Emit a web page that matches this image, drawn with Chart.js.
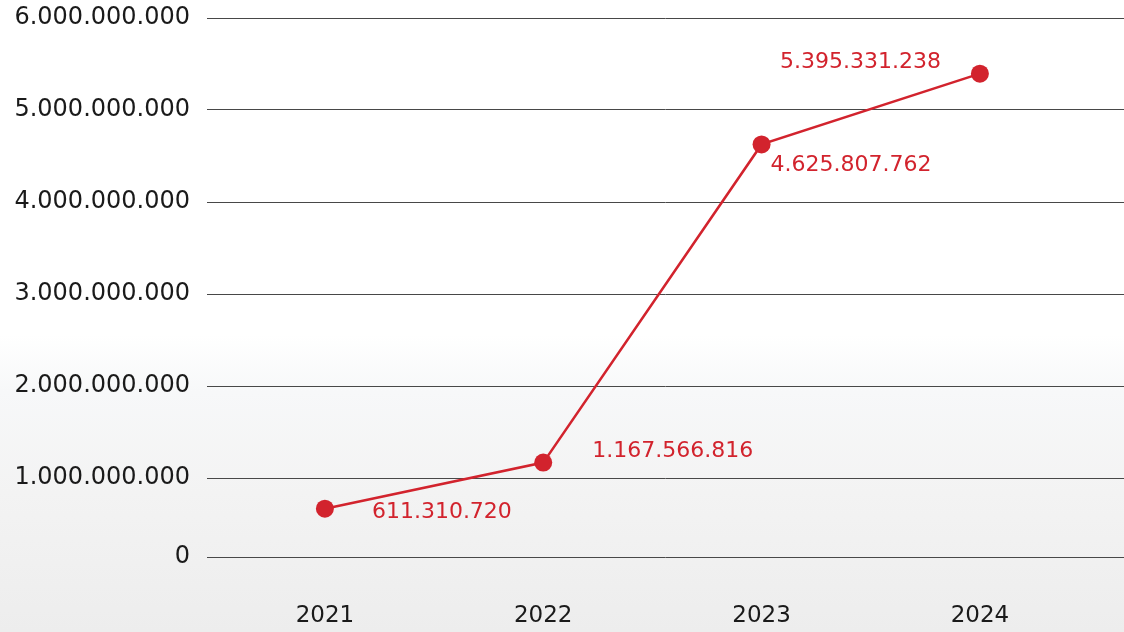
<!DOCTYPE html>
<html>
<head>
<meta charset="utf-8">
<script src="https://cdn.jsdelivr.net/npm/chart.js@4"></script>
<style>
  html, body { margin: 0; padding: 0; }
  body {
    width: 1124px; height: 632px; overflow: hidden;
    background: linear-gradient(to bottom, #ffffff 0%, #ffffff 53%, #f7f8f9 62%, #f3f3f3 78%, #ededed 100%);
  }
  canvas { display: block; }
</style>
</head>
<body>
<canvas id="c" width="1124" height="632"></canvas>
<script>
// ---- data ----
const years = [2021, 2022, 2023, 2024];
const values = [611310720, 1167566816, 4625807762, 5395331238];
const yTicks = [0, 1000000000, 2000000000, 3000000000, 4000000000, 5000000000, 6000000000];

// ---- helpers ----
function fmt(v) {
  return String(Math.round(v)).replace(/\B(?=(\d{3})+(?!\d))/g, '.');
}

// Linear scale whose first interval (0 .. breakValue) is drawn shorter, as in the original
class SegmentedLinearScale extends Chart.LinearScale {
  _segDecimal(v) {
    const b = this.options.breakValue;
    const a = this.options.breakFraction;
    const max = this.max;
    if (v <= b) return (v - this.min) / (b - this.min) * a;
    return a + (v - b) / (max - b) * (1 - a);
  }
  getPixelForValue(value) {
    if (value === null || value === undefined || isNaN(value)) return NaN;
    return this.getPixelForDecimal(this._segDecimal(value));
  }
  getValueForPixel(pixel) {
    const d = this.getDecimalForPixel(pixel);
    const b = this.options.breakValue;
    const a = this.options.breakFraction;
    if (d <= a) return this.min + d / a * (b - this.min);
    return b + (d - a) / (1 - a) * (this.max - b);
  }
}
SegmentedLinearScale.id = 'segmentedLinear';
SegmentedLinearScale.defaults = Chart.LinearScale.defaults;
Chart.register(SegmentedLinearScale);

const RED = '#d2232d';
const labelOffsets = [
  { dx: 47, dy: 4, align: 'left' },
  { dx: 49, dy: -11, align: 'left' },
  { dx: 9, dy: 21, align: 'left' },
  { dx: -39, dy: -11, align: 'right' }
];

const valueLabels = {
  id: 'valueLabels',
  afterDatasetsDraw(chart) {
    const ctx = chart.ctx;
    const meta = chart.getDatasetMeta(0);
    ctx.save();
    ctx.font = '22px "DejaVu Sans", sans-serif';
    ctx.fillStyle = RED;
    ctx.textBaseline = 'middle';
    meta.data.forEach((pt, i) => {
      const o = labelOffsets[i];
      ctx.textAlign = o.align;
      ctx.fillText(fmt(values[i]), pt.x + o.dx, pt.y + o.dy);
    });
    ctx.restore();
  }
};

new Chart(document.getElementById('c'), {
  type: 'line',
  data: {
    datasets: [{
      data: years.map((y, i) => ({ x: y, y: values[i] })),
      borderColor: RED,
      backgroundColor: RED,
      borderWidth: 2.5,
      pointRadius: 9,
      pointHoverRadius: 9,
      pointBackgroundColor: RED,
      pointBorderColor: RED,
      pointBorderWidth: 0,
      tension: 0,
      fill: false
    }]
  },
  options: {
    responsive: false,
    animation: false,
    events: [],
    layout: { autoPadding: false, padding: { top: 18, right: 0, bottom: 0, left: 0 } },
    plugins: { legend: { display: false }, tooltip: { enabled: false } },
    scales: {
      x: {
        type: 'linear',
        min: 2020.46,
        max: 2024.66,
        afterBuildTicks(scale) { scale.ticks = years.map(v => ({ value: v })); },
        afterFit(scale) { scale.height = 75; scale.paddingLeft = 0; scale.paddingRight = 0; },
        grid: { display: false, drawTicks: false },
        border: { display: false },
        ticks: {
          padding: 45,
          color: '#1a1a1a',
          font: { family: '"DejaVu Sans", sans-serif', size: 23 },
          callback: v => String(v),
          maxRotation: 0,
          autoSkip: false
        }
      },
      y: {
        type: 'segmentedLinear',
        min: 0,
        max: 6000000000,
        breakValue: 1000000000,
        breakFraction: 79 / 539,
        afterBuildTicks(scale) { scale.ticks = yTicks.map(v => ({ value: v })); },
        afterFit(scale) { scale.width = 207; scale.paddingTop = 0; scale.paddingBottom = 0; },
        grid: { color: '#484848', lineWidth: 1, drawTicks: false },
        border: { display: false },
        ticks: {
          padding: 17,
          color: '#1a1a1a',
          font: { family: '"DejaVu Sans", sans-serif', size: 24 },
          callback: v => fmt(v)
        }
      }
    }
  },
  plugins: [valueLabels]
});
</script>
</body>
</html>
